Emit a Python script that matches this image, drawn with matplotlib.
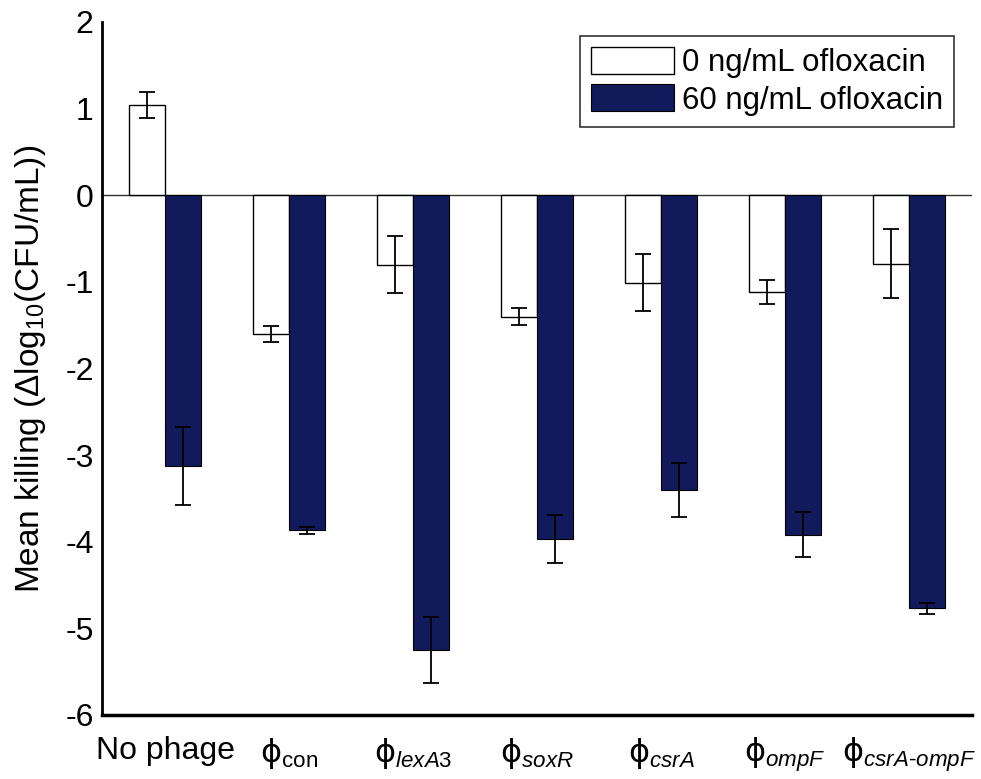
import matplotlib
matplotlib.use("Agg")
import matplotlib.pyplot as plt
import numpy as np

# data
groups = ["No phage",
          r"$\mathsf{\phi}_{\mathrm{con}}$",
          r"$\mathsf{\phi}_{\mathit{lexA3}}$",
          r"$\mathsf{\phi}_{\mathit{soxR}}$",
          r"$\mathsf{\phi}_{\mathit{csrA}}$",
          r"$\mathsf{\phi}_{\mathit{ompF}}$",
          r"$\mathsf{\phi}_{\mathit{csrA}\text{-}\mathit{ompF}}$"]
oflox_0 = [1.04, -1.60, -0.80, -1.40, -1.01, -1.12, -0.79]
oflox_0_err = [0.15, 0.09, 0.33, 0.10, 0.33, 0.14, 0.40]
oflox_60 = [-3.13, -3.87, -5.25, -3.97, -3.40, -3.92, -4.77]
oflox_60_err = [0.45, 0.04, 0.38, 0.28, 0.31, 0.26, 0.06]
yticks = [2, 1, 0, -1, -2, -3, -4, -5, -6]

plt.rcParams['font.family'] = ['Liberation Sans', 'DejaVu Sans']
plt.rcParams['mathtext.fontset'] = 'custom'
plt.rcParams['mathtext.rm'] = 'Liberation Sans'
plt.rcParams['mathtext.it'] = 'Liberation Sans:italic'
plt.rcParams['mathtext.bf'] = 'Liberation Sans:bold'
plt.rcParams['mathtext.sf'] = 'DejaVu Sans'

navy = '#111b5c'
w = 0.29
x = np.arange(len(groups))

fig = plt.figure(figsize=(9.81, 7.79), dpi=100)
ax = fig.add_axes([102/981, 1 - 715/779, 870/981, 693/779])

ax.axhline(0, color='#333333', lw=1.0, zorder=1)
ax.bar(x - w/2, oflox_0, w, color='white', edgecolor='black', linewidth=1.0, zorder=2,
       label='0 ng/mL ofloxacin')
ax.bar(x + w/2, oflox_60, w, color=navy, edgecolor='black', linewidth=0.8, zorder=2,
       label='60 ng/mL ofloxacin')
ax.errorbar(x - w/2, oflox_0, yerr=oflox_0_err, fmt='none', ecolor='black',
            elinewidth=1.3, capsize=5.5, capthick=1.3, zorder=3)
ax.errorbar(x + w/2, oflox_60, yerr=oflox_60_err, fmt='none', ecolor='black',
            elinewidth=1.3, capsize=5.5, capthick=1.3, zorder=3)

ax.set_xlim(-0.508, 6.508)
ax.set_ylim(-6, 2)
ax.set_yticks(yticks)
ax.set_yticklabels([str(t) for t in yticks])
ax.set_xticks(x)
ax.set_xticklabels(groups)
ax.tick_params(axis='y', length=0, pad=6, labelsize=23)
ax.tick_params(axis='x', length=0, pad=15, labelsize=23)

for s in ['top', 'right']:
    ax.spines[s].set_visible(False)
ax.spines['left'].set_linewidth(2)
ax.spines['bottom'].set_linewidth(2.5)

ax.set_ylabel('Mean killing (Δlog$_{10}$(CFU/mL))', fontsize=24, labelpad=12)

leg = ax.legend(loc='upper right', bbox_to_anchor=(954/981, 1 - 36/779),
                bbox_transform=fig.transFigure, fontsize=22.5, frameon=True, fancybox=False,
                edgecolor='black', borderaxespad=0, handlelength=2.65, handleheight=0.95,
                handletextpad=0.26, labelspacing=0.2, borderpad=0.35)
leg.get_frame().set_linewidth(1.2)

plt.savefig('out.png', dpi=100)
